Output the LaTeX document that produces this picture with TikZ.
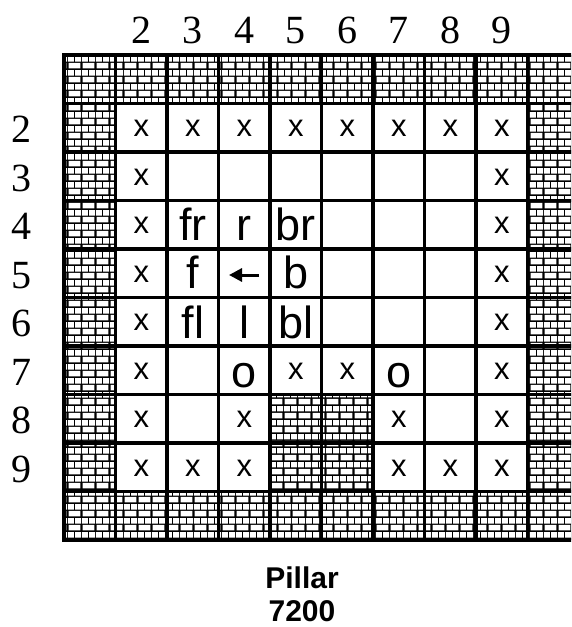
\documentclass[tikz,border=0pt]{standalone}
\usepackage{fontspec}
\setmainfont{Liberation Serif}
\newfontfamily\cellfont{Liberation Sans}
\usetikzlibrary{patterns,arrows.meta}

\pgfdeclarepatternformonly{brickwall}{\pgfqpoint{0pt}{0pt}}{\pgfqpoint{13.5pt}{13.8pt}}{\pgfqpoint{13.5pt}{13.8pt}}{
  \pgfpathrectangle{\pgfqpoint{0.7pt}{0.7pt}}{\pgfqpoint{12.1pt}{5.5pt}}
  \pgfpathrectangle{\pgfqpoint{0pt}{7.6pt}}{\pgfqpoint{6.05pt}{5.5pt}}
  \pgfpathrectangle{\pgfqpoint{7.45pt}{7.6pt}}{\pgfqpoint{6.05pt}{5.5pt}}
  \pgfusepath{fill}
}

\begin{document}
\begin{tikzpicture}[x=1pt,y=-1pt,
  xm/.style={font=\cellfont\fontsize{31}{31}\selectfont, inner sep=0pt},
  big/.style={font=\cellfont\fontsize{45}{45}\selectfont, inner sep=0pt, anchor=base},
  lab/.style={font=\fontsize{40}{40}\selectfont, inner sep=0pt, anchor=base},
  captext/.style={font=\cellfont\bfseries\fontsize{30}{36}\selectfont, inner sep=0pt, anchor=base},
  wall/.style={pattern=brickwall, pattern color=white},
  gridline/.style={line width=3.8pt, line cap=rect}]
\useasboundingbox (0,0) rectangle (571,627);
\clip (0,0) rectangle (571,627);
% walls
\fill[black] (64,55) rectangle (579,540);
\fill[wall] (64,55) rectangle (579,540);
\fill[white] (115.5,103.5) rectangle (527.5,491.5);
\fill[black] (270,394.5) rectangle (373,491.5);
\fill[wall] (270,394.5) rectangle (373,491.5);
% grid
\foreach \i in {0,...,10} {
  \draw[gridline] ({64+51.5*\i},55) -- ({64+51.5*\i},540);
  \draw[gridline] (64,{55+48.5*\i}) -- (579,{55+48.5*\i});
}
% labels
\foreach \n in {2,...,9} {
  \node[lab] (c\n) at ({64+51.5*(\n-0.5)},43) {\n};
  \node[lab] (r\n) at (22,{55+48.5*(\n-0.5)+15}) {\n};
}
% x marks
\foreach \c/\r in {2/2,3/2,4/2,5/2,6/2,7/2,8/2,9/2,
  2/3,9/3,2/4,9/4,2/5,9/5,2/6,9/6,2/7,5/7,6/7,9/7,
  2/8,4/8,7/8,9/8,2/9,3/9,4/9,7/9,8/9,9/9}
  \node[xm] (x\c\r) at ({64+51.5*(\c-0.5)},{55+48.5*(\r-0.5)+1}) {x};
% big letters
\node[big] (fr) at ({64+51.5*2.5},240) {fr};
\node[big] (r)  at ({64+51.5*3.5},240) {r};
\node[big] (br) at ({64+51.5*4.5},240) {br};
\node[big] (f)  at ({64+51.5*2.5},288.5) {f};
\node[big] (b)  at ({64+51.5*4.5},288.5) {b};
\node[big] (fl) at ({64+51.5*2.5},338) {f{}l};
\node[big] (l)  at ({64+51.5*3.5},338) {l};
\node[big] (bl) at ({64+51.5*4.5},338) {bl};
\node[big] (o1) at ({64+51.5*3.5},387) {o};
\node[big] (o2) at ({64+51.5*6.5},387) {o};
% arrow
\coordinate (a1) at (259,275);
\coordinate (a2) at (229,275);
\draw[line width=3pt, -{Triangle[length=13pt,width=13pt]}] (a1) -- (a2);
% caption
\node[captext] (cap1) at (302,588) {Pillar};
\node[captext] (cap2) at (302,621) {7200};
\end{tikzpicture}
\end{document}
